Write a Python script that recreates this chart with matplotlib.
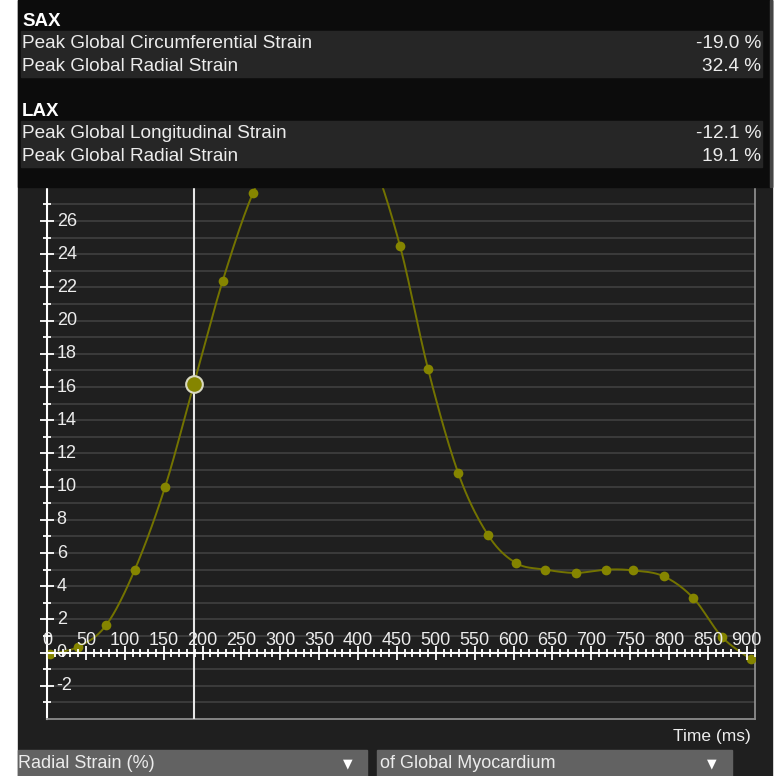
import numpy as np
import matplotlib
matplotlib.use("Agg")
import matplotlib.pyplot as plt
from matplotlib.patches import Rectangle

plt.rcParams['font.family'] = ['Liberation Sans', 'DejaVu Sans']
plt.rcParams['axes.unicode_minus'] = False

# global radial strain curve of the myocardium over one cardiac cycle
time_ms = [4, 40, 76, 113, 152, 189, 226, 265, 303, 341, 379, 417, 454,
           490, 529, 567, 603, 641, 680, 719, 754, 793, 831, 868, 905]
radial_strain = [-0.1, 0.35, 1.65, 5.0, 10.0, 16.2, 22.4, 27.7, 31.0, 32.4,
                 32.0, 29.8, 24.5, 17.1, 10.8, 7.1, 5.4, 5.0, 4.8, 5.0,
                 4.95, 4.6, 3.3, 0.95, -0.4]
selected = 5

# summary table
sax_labels = ["Peak Global Circumferential Strain", "Peak Global Radial Strain"]
sax_values = [-19.0, 32.4]
lax_labels = ["Peak Global Longitudinal Strain", "Peak Global Radial Strain"]
lax_values = [-12.1, 19.1]

W, H = 780, 776
BG = '#1f1f1f'
LINE = '#737300'
DOT = '#858500'
TXT = '#ececec'


def fx(x):
    return x / W


def fy(y):
    return 1 - y / H


def box(x0, y0, x1, y1, color, z):
    # rectangle given in pixel coords measured from the top-left corner
    fig.add_artist(Rectangle((fx(x0), fy(y1)), (x1 - x0) / W, (y1 - y0) / H,
                             transform=fig.transFigure, color=color, zorder=z))


def catmull_rom(x, y, n=20):
    x = np.asarray(x, float)
    y = np.asarray(y, float)
    px = np.concatenate([[2 * x[0] - x[1]], x, [2 * x[-1] - x[-2]]])
    py = np.concatenate([[2 * y[0] - y[1]], y, [2 * y[-1] - y[-2]]])
    xs, ys = [], []
    s = np.linspace(0, 1, n, endpoint=False)
    for i in range(1, len(px) - 2):
        for p, out in ((px, xs), (py, ys)):
            p0, p1, p2, p3 = p[i - 1], p[i], p[i + 1], p[i + 2]
            out.append(0.5 * (2 * p1 + (-p0 + p2) * s
                              + (2 * p0 - 5 * p1 + 4 * p2 - p3) * s ** 2
                              + (-p0 + 3 * p1 - 3 * p2 + p3) * s ** 3))
    xs.append([x[-1]])
    ys.append([y[-1]])
    return np.concatenate(xs), np.concatenate(ys)


fig = plt.figure(figsize=(W / 100, H / 100), dpi=100)
fig.patch.set_facecolor('white')

# dark panel behind everything
box(18, 0, 772, H, BG, -5)

# plot area runs from the table's lower edge down to y = 719 px
ax = fig.add_axes([fx(47), fy(719), (755 - 47) / W, (719 - 187) / H])
ax.set_facecolor(BG)
ax.set_xlim(0, 910.6)
ax.set_ylim(-4, (719 - 187) / 16.6 - 4)

ax.set_yticks(np.arange(-2, 27, 2))
ax.set_yticks(np.arange(-3, 28, 1), minor=True)
ax.set_xticks([])
ax.grid(which='both', axis='y', color='#3e3e3e', lw=1.3)
ax.set_axisbelow(True)
ax.tick_params(axis='y', which='major', direction='inout', length=10, width=1.3,
               color='white', labelcolor=TXT, labelsize=13, pad=-12)
ax.tick_params(axis='y', which='minor', direction='inout', length=6, width=1.3,
               color='white')
plt.setp(ax.get_yticklabels(), ha='left', va='center')

ax.spines['top'].set_visible(False)
ax.spines['left'].set_color('white')
ax.spines['left'].set_linewidth(1.5)
for side in ('bottom', 'right'):
    ax.spines[side].set_color('#8c8c8c')
    ax.spines[side].set_linewidth(1.3)

# time axis runs along zero strain, labels above it
ax2 = ax.twiny()
ax2.set_xlim(ax.get_xlim())
for side in ('left', 'right', 'bottom'):
    ax2.spines[side].set_visible(False)
ax2.spines['top'].set_position(('data', 0))
ax2.spines['top'].set_color('white')
ax2.spines['top'].set_linewidth(1.5)
ax2.set_xticks(np.arange(0, 901, 50))
ax2.set_xticks(np.arange(0, 911, 10), minor=True)
ax2.tick_params(axis='x', which='major', direction='inout', length=9.5, width=1.3,
                color='white', labelcolor=TXT, labelsize=13, pad=-2)
ax2.tick_params(axis='x', which='minor', direction='inout', length=5.5, width=1.3,
                color='white')

ax.axvline(time_ms[selected], color='#e6e6e6', lw=1.5, zorder=3)

cx, cy = catmull_rom(time_ms, radial_strain)
ax.plot(cx, cy, color=LINE, lw=1.4, zorder=4)
ax.plot(time_ms, radial_strain, 'o', ms=7, color=DOT, mec='none', zorder=5)
ax.plot(time_ms[selected], radial_strain[selected], 'o', ms=12, mfc=DOT,
        mec='#d8d8c0', mew=1.5, zorder=6)

fig.text(fx(751), fy(737), "Time (ms)", ha='right', va='center', color=TXT,
         fontsize=12.5)

# selector boxes at the bottom
box(18, 750, 367, H, '#626262', 2)
box(377, 750, 732, H, '#626262', 2)
fig.text(fx(18), fy(764), "Radial Strain (%)", ha='left', va='center', color=TXT,
         fontsize=13, zorder=3)
fig.text(fx(380), fy(764), "of Global Myocardium", ha='left', va='center',
         color=TXT, fontsize=13, zorder=3)
for arrow_x in (348, 712):
    fig.text(fx(arrow_x), fy(764), "\u25bc", ha='center', va='center',
             color='white', fontsize=9, family='DejaVu Sans', zorder=3)

# summary table over the top of the plot
box(18, 0, 772, 187, '#0c0c0c', 5)
box(770, 0, 772, 187, '#454545', 6)
for top in (31, 121):
    box(21, top, 762, top + 46, '#262626', 6)

sections = [("SAX", 21.5, sax_labels, sax_values, 43.5),
            ("LAX", 111.5, lax_labels, lax_values, 133.5)]
for title, ty, labels, values, row_y in sections:
    fig.text(fx(22), fy(ty), title, ha='left', va='center', color='white',
             fontsize=13.5, fontweight='bold', zorder=7)
    for i, (lab, val) in enumerate(zip(labels, values)):
        y = row_y + i * 23
        fig.text(fx(22), fy(y), lab, ha='left', va='center', color=TXT,
                 fontsize=13.7, zorder=7)
        fig.text(fx(761), fy(y), "%.1f %%" % val, ha='right', va='center',
                 color=TXT, fontsize=13.7, zorder=7)

fig.savefig("out.png", dpi=100, facecolor=fig.get_facecolor())
